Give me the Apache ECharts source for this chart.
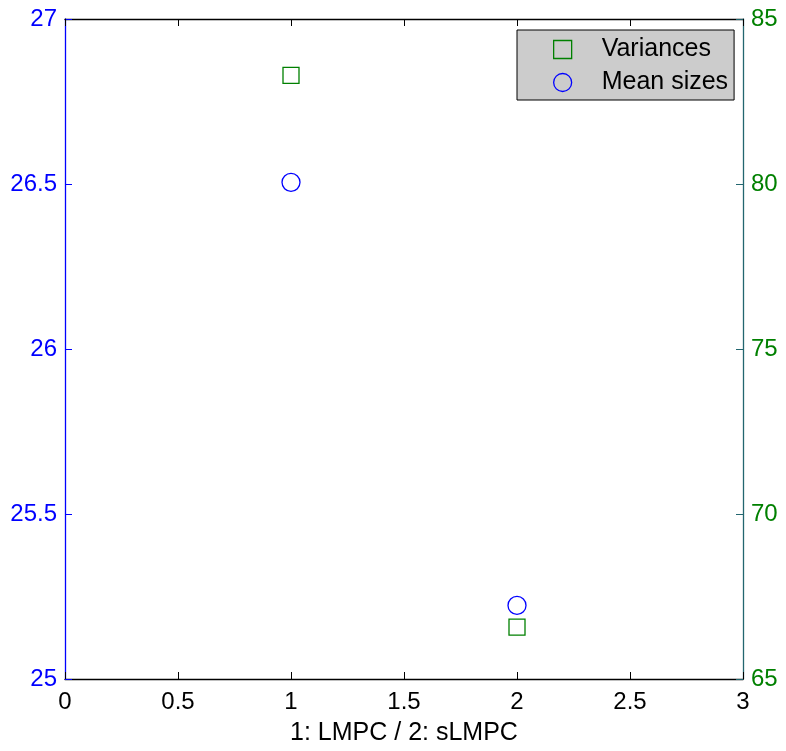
<!DOCTYPE html>
<html>
<head>
<meta charset="utf-8">
<script src="https://cdn.jsdelivr.net/npm/echarts@6/dist/echarts.min.js"></script>
<style>
  html, body { margin: 0; padding: 0; background: #fff; }
  #chart { width: 786px; height: 751px; }
</style>
</head>
<body>
<div id="chart"></div>
<script>
// Method index on the x axis (1: LMPC, 2: sLMPC)
const methodX = [1, 2];
// Mean sizes, read on the left axis
const meanSizes = [26.505, 25.223];
// Variances, read on the right axis
const variances = [83.29, 66.57];

const xTicks = [0, 0.5, 1, 1.5, 2, 2.5, 3];
const leftTicks = [25, 25.5, 26, 26.5, 27];
const rightTicks = [65, 70, 75, 80, 85];

const FONT = 'Liberation Sans';
const FS = 24;
const FS_TEXT = 25;
const BLUE = '#0000ff';
const GREEN = '#008000';
const EDGE = '#23666f';

const chart = echarts.init(document.getElementById('chart'), null, { renderer: 'canvas' });

chart.setOption({
  animation: false,
  backgroundColor: '#ffffff',
  grid: { left: 65, width: 678, top: 19, height: 663, containLabel: false },
  legend: {
    orient: 'vertical',
    left: 517,
    top: 30,
    padding: [7, 6, 5, 36],
    backgroundColor: '#cccccc',
    borderColor: '#000000',
    borderWidth: 1,
    borderRadius: 0,
    itemWidth: 18,
    itemHeight: 18,
    itemGap: 8,
    selectedMode: false,
    textStyle: { fontFamily: FONT, fontSize: FS_TEXT, color: '#000', lineHeight: 24, padding: [0, 0, 0, 25] },
    data: [
      { name: 'Variances', icon: 'rect',
        itemStyle: { color: 'transparent', borderColor: GREEN, borderWidth: 1.3 } },
      { name: 'Mean sizes', icon: 'circle',
        itemStyle: { color: 'transparent', borderColor: BLUE, borderWidth: 1.3 } }
    ]
  },
  xAxis: [
    {
      type: 'value', position: 'bottom', min: xTicks[0], max: xTicks[xTicks.length - 1], interval: 0.5,
      name: '1: LMPC / 2: sLMPC', nameLocation: 'middle', nameGap: 42,
      nameTextStyle: { fontFamily: FONT, fontSize: FS_TEXT, color: '#000' },
      axisLine: { show: true, onZero: false, lineStyle: { color: '#000', width: 1.3 } },
      axisTick: { show: true, inside: true, length: 7, lineStyle: { color: '#000', width: 1 } },
      axisLabel: { fontFamily: FONT, fontSize: FS, color: '#000', margin: 11,
        formatter: v => String(v) },
      splitLine: { show: false }
    },
    {
      type: 'value', position: 'top', min: xTicks[0], max: xTicks[xTicks.length - 1], interval: 0.5,
      axisLine: { show: true, onZero: false, lineStyle: { color: '#000', width: 1.3 } },
      axisTick: { show: true, inside: true, length: 7, lineStyle: { color: '#000', width: 1 } },
      axisLabel: { show: false },
      splitLine: { show: false }
    }
  ],
  yAxis: [
    {
      type: 'value', position: 'left', min: leftTicks[0], max: leftTicks[leftTicks.length - 1], interval: 0.5,
      axisLine: { show: true, onZero: false, lineStyle: { color: BLUE, width: 1.3 } },
      axisTick: { show: true, inside: true, length: 7, lineStyle: { color: BLUE, width: 1 } },
      axisLabel: { fontFamily: FONT, fontSize: FS, color: BLUE, margin: 8,
        formatter: v => String(v) },
      splitLine: { show: false }
    },
    {
      type: 'value', position: 'right', min: rightTicks[0], max: rightTicks[rightTicks.length - 1], interval: 5,
      axisLine: { show: true, onZero: false, lineStyle: { color: EDGE, width: 1.3 } },
      axisTick: { show: true, inside: true, length: 7, lineStyle: { color: EDGE, width: 1 } },
      axisLabel: { fontFamily: FONT, fontSize: FS, color: GREEN, margin: 8,
        formatter: v => String(v) },
      splitLine: { show: false }
    }
  ],
  series: [
    {
      name: 'Variances', type: 'scatter', xAxisIndex: 0, yAxisIndex: 1,
      symbol: 'rect', symbolSize: 16,
      itemStyle: { color: 'transparent', borderColor: GREEN, borderWidth: 1.3, opacity: 1 },
      data: methodX.map((x, i) => [x, variances[i]])
    },
    {
      name: 'Mean sizes', type: 'scatter', xAxisIndex: 0, yAxisIndex: 0,
      symbol: 'circle', symbolSize: 18,
      itemStyle: { color: 'transparent', borderColor: BLUE, borderWidth: 1.3, opacity: 1 },
      data: methodX.map((x, i) => [x, meanSizes[i]])
    }
  ]
});
</script>
</body>
</html>
